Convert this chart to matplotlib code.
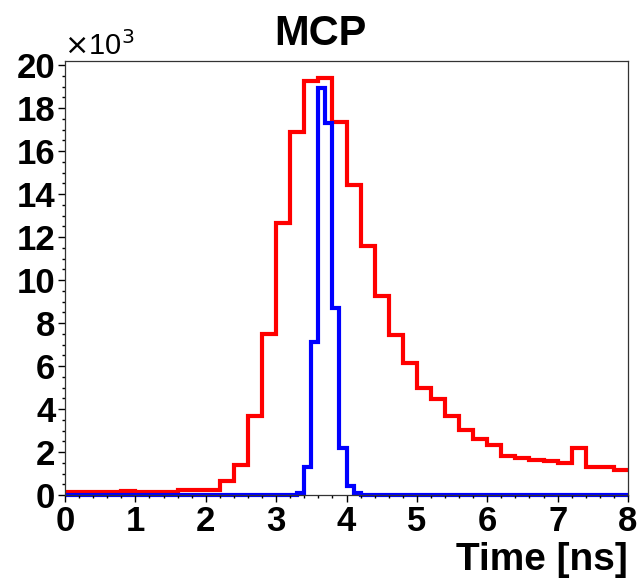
import numpy as np
import matplotlib
matplotlib.use("Agg")
import matplotlib.pyplot as plt
from matplotlib.ticker import MultipleLocator, FuncFormatter

# ----------------------------------------------------------------------
# DATA (counts per bin)
# ----------------------------------------------------------------------

# red histogram: 40 bins of 0.2 ns from 0 to 8 ns
red_edges = np.linspace(0.0, 8.0, 41)
red_counts = [120, 120, 120, 120, 190, 120, 150, 150, 230, 230,
              230, 650, 1400, 3660, 7480, 12650, 16900, 19270, 19390, 17370,
              14440, 11600, 9240, 7430, 6120, 4980, 4470, 3660, 3010, 2600,
              2340, 1820, 1710, 1640, 1600, 1500, 2170, 1300, 1300, 1170]

# blue histogram: 80 bins of 0.1 ns, non-empty only around 3.3-4.2 ns
blue_edges = np.linspace(0.0, 8.0, 81)
blue_peak_start = 33  # bin index of 3.3 ns
blue_peak = [80, 1290, 7120, 18930, 17290, 8680, 2180, 420, 110]
blue_counts = np.zeros(80)
blue_counts[blue_peak_start:blue_peak_start + len(blue_peak)] = blue_peak

title = "MCP"
x_label = "Time [ns]"

# ----------------------------------------------------------------------
# PLOT
# ----------------------------------------------------------------------

plt.rcParams['font.family'] = ['Liberation Sans', 'DejaVu Sans']

fig = plt.figure(figsize=(6.41, 5.80), dpi=100)
ax = fig.add_axes([65 / 641, 1 - 495 / 580, (628 - 65) / 641, (495 - 61) / 580])

ax.stairs(red_counts, red_edges, baseline=None, color="#ff0000", linewidth=3.0)
ax.stairs(blue_counts, blue_edges, baseline=None, color="#0000ff",
          linewidth=3.0, clip_on=False)

ax.set_xlim(0, 8)
ax.set_ylim(0, 20190)

ax.xaxis.set_major_locator(MultipleLocator(1))
ax.xaxis.set_minor_locator(MultipleLocator(0.2))
ax.yaxis.set_major_locator(MultipleLocator(2000))
ax.yaxis.set_minor_locator(MultipleLocator(500))
ax.yaxis.set_major_formatter(FuncFormatter(lambda v, p: "%d" % round(v / 1000)))

ax.tick_params(which="both", direction="out", top=False, right=False,
               labelsize=25, width=1.0, color="black")
ax.tick_params(which="major", length=5, pad=2)
ax.tick_params(which="minor", length=2.5)
for lab in ax.get_xticklabels() + ax.get_yticklabels():
    lab.set_fontweight("bold")

for sp in ax.spines.values():
    sp.set_linewidth(0.9)
    sp.set_color("#333333")

# axis title, right aligned like ROOT
fig.text(628 / 641, 1 - 570 / 580, x_label, ha="right", va="baseline",
         fontsize=28, fontweight="bold")

# exponent label for the y axis
fig.text(64 / 641, 1 - 55 / 580, r"$\times$10$^{3}$", ha="left", va="baseline",
         fontsize=21)

fig.text(0.5, 1 - 45 / 580, title, ha="center", va="baseline",
         fontsize=30, fontweight="bold")

fig.savefig("out.png", dpi=100)
plt.close(fig)
